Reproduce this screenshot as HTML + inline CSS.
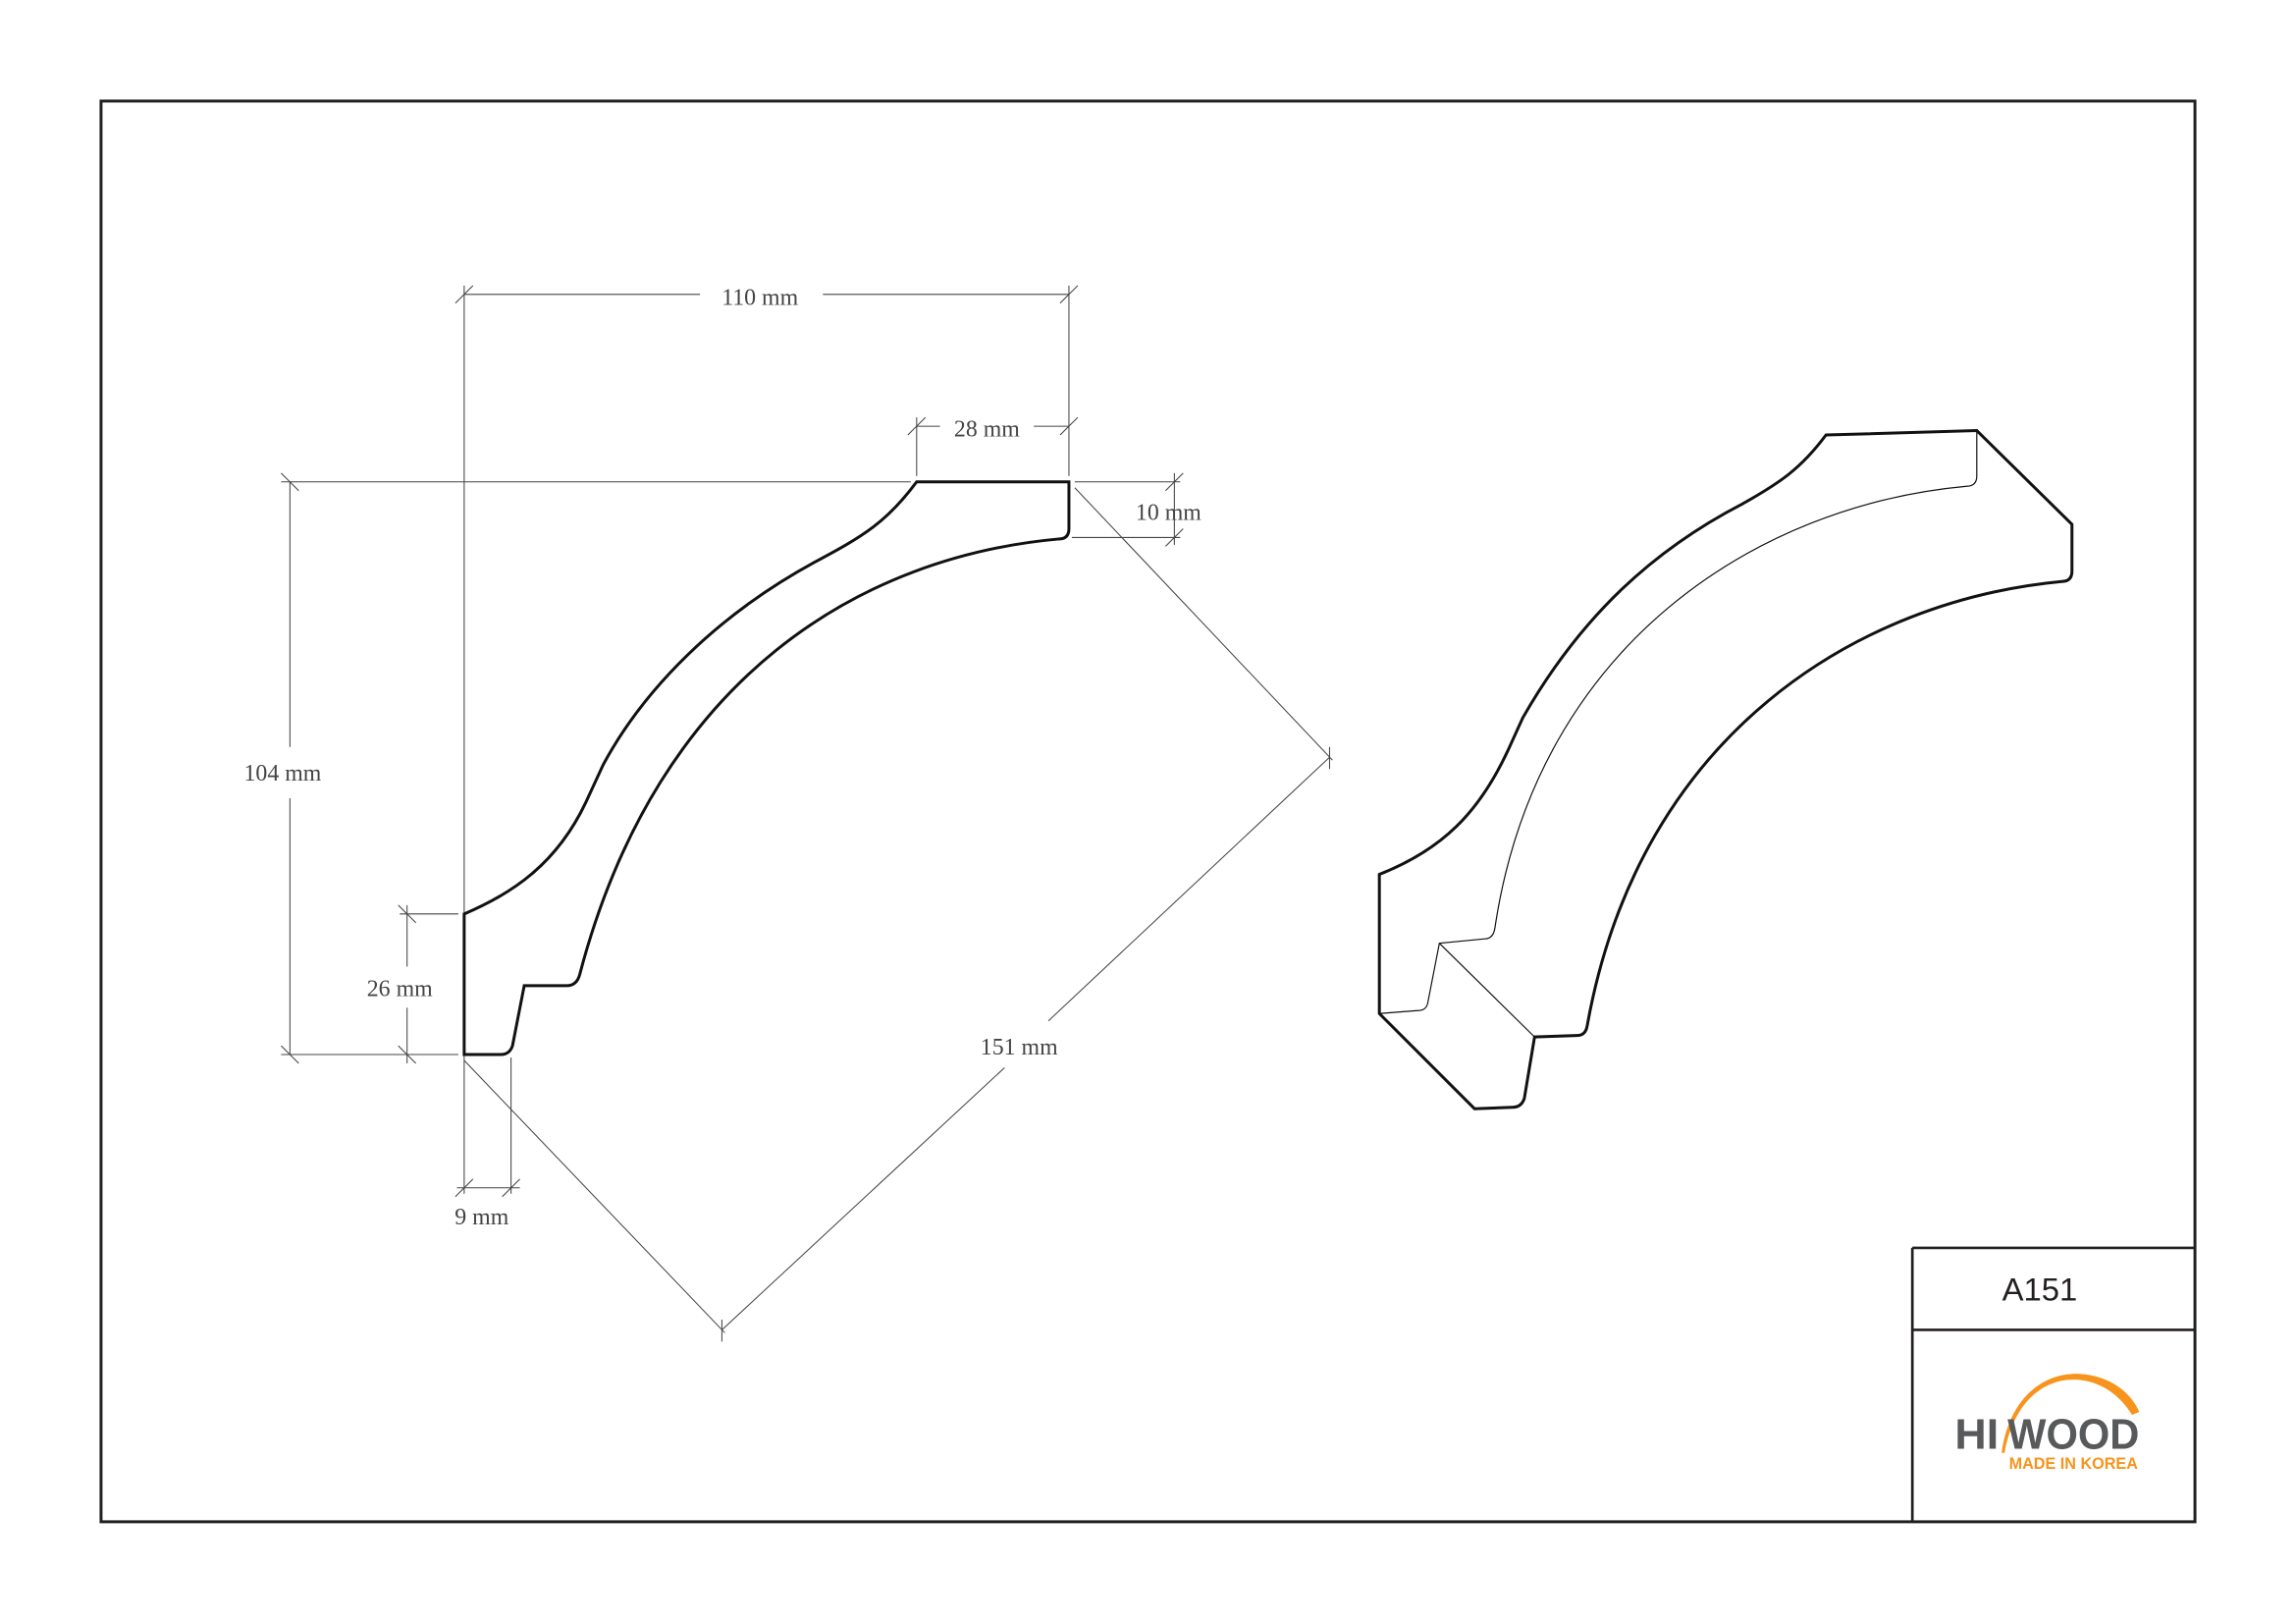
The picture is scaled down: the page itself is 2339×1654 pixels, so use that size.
<!DOCTYPE html>
<html><head><meta charset="utf-8"><style>html,body{margin:0;padding:0;background:#fff}svg{display:block}</style></head>
<body>
<svg width="2339" height="1654" viewBox="0 0 1568 1108.8" xmlns="http://www.w3.org/2000/svg">
<rect x="0" y="0" width="1568" height="1108.8" fill="#fff"/>
<rect x="69" y="69" width="1430" height="970" fill="none" stroke="#231f20" stroke-width="2"/>
<line x1="1306" y1="852" x2="1499" y2="852" stroke="#231f20" stroke-width="1.8"/>
<line x1="1306" y1="852" x2="1306" y2="1039" stroke="#231f20" stroke-width="1.8"/>
<line x1="1306" y1="908" x2="1499" y2="908" stroke="#231f20" stroke-width="1.8"/>
<text x="1393" y="888" font-family="Liberation Sans, sans-serif" font-size="22" text-anchor="middle" fill="#231f20">A151</text>
<path d="M1367,992 C1372,955 1395,937 1420,938 C1440,939 1455,950 1461,964 L1456,966 C1448,953 1435,943 1418,942 C1395,941 1375,958 1369,992 Z" fill="#f7941d"/>
<text x="1335" y="989" font-family="Liberation Sans, sans-serif" font-weight="bold" font-size="29" fill="#58595b" textLength="30" lengthAdjust="spacingAndGlyphs">HI</text>
<text x="1371" y="989" font-family="Liberation Sans, sans-serif" font-weight="bold" font-size="29" fill="#58595b" textLength="90" lengthAdjust="spacingAndGlyphs">WOOD</text>
<text x="1372" y="1003" font-family="Liberation Sans, sans-serif" font-weight="bold" font-size="11" fill="#f7941d" textLength="88" lengthAdjust="spacingAndGlyphs">MADE IN KOREA</text>

<g stroke="#444" stroke-width="0.7" fill="none">
<line x1="317" y1="201" x2="478" y2="201"/><line x1="562" y1="201" x2="730" y2="201"/>
<line x1="317" y1="195" x2="317" y2="815"/><line x1="730" y1="195" x2="730" y2="325"/>
<line x1="311" y1="207" x2="323" y2="195"/><line x1="724" y1="207" x2="736" y2="195"/>
<line x1="626" y1="291" x2="642" y2="291"/><line x1="706" y1="291" x2="730" y2="291"/>
<line x1="626" y1="285" x2="626" y2="325"/>
<line x1="620" y1="297" x2="632" y2="285"/><line x1="724" y1="297" x2="736" y2="285"/>
<line x1="734" y1="329" x2="806" y2="329"/><line x1="732" y1="367" x2="806" y2="367"/>
<line x1="802" y1="323" x2="802" y2="372"/>
<line x1="796" y1="335" x2="808" y2="323"/><line x1="796" y1="373" x2="808" y2="361"/>
<line x1="192" y1="329" x2="622" y2="329"/><line x1="192" y1="720" x2="313" y2="720"/>
<line x1="198" y1="329" x2="198" y2="510"/><line x1="198" y1="545" x2="198" y2="720"/>
<line x1="192" y1="323" x2="204" y2="335"/><line x1="192" y1="714" x2="204" y2="726"/>
<line x1="273" y1="624" x2="313" y2="624"/>
<line x1="278" y1="618" x2="278" y2="660"/><line x1="278" y1="688" x2="278" y2="726"/>
<line x1="272" y1="618" x2="284" y2="630"/><line x1="272" y1="714" x2="284" y2="726"/>
<line x1="349" y1="722" x2="349" y2="815"/>
<line x1="312" y1="811" x2="355" y2="811"/>
<line x1="311" y1="817" x2="323" y2="805"/><line x1="343" y1="817" x2="355" y2="805"/>
<line x1="734" y1="333" x2="910" y2="519"/>
<line x1="317" y1="724" x2="495" y2="910"/>
<line x1="908" y1="517" x2="716" y2="697"/><line x1="686" y1="729" x2="493" y2="908"/>
<line x1="908" y1="510" x2="908" y2="525"/><line x1="493" y1="901" x2="493" y2="916"/>
</g>
<g font-family="Liberation Serif, serif" font-size="16" fill="#444" text-anchor="middle">
<text x="519" y="208">110 mm</text>
<text x="674" y="298">28 mm</text>
<text x="798" y="355">10 mm</text>
<text x="193" y="533">104 mm</text>
<text x="273" y="680">26 mm</text>
<text x="329" y="836">9 mm</text>
<text x="696" y="720">151 mm</text>
</g>

<path d="M626,329 L730,329 L730,361 Q730,368 723,368 C590,380 450,460 396,665 Q394,673 387,673 L358,673 L350,714 Q348,720 342,720 L317,720 L317,624 C350,610 380,590 400,548 L412,522 C440,470 490,420 556,384 C590,366 606,356 626,329 Z" fill="none" stroke="#111" stroke-width="2"/>

<g fill="none" stroke="#111">
<path d="M1247,297 L1350,294 L1415,358 L1415,390 Q1415,397 1408,397 C1270,410 1120,500 1084,700 Q1083,707 1077,707 L1048,708 L1041,750 Q1039,756 1033,756 L1007,757 L942,692 L942,597 C985,580 1010,555 1030,512 L1040,490 C1080,420 1130,375 1190,344 C1215,330 1230,320 1247,297 Z" stroke-width="2"/>
<path d="M1350,294 L1350,325 Q1350,332 1343,332 C1200,345 1050,440 1021,633 Q1020,641 1014,641 L983,644 L975,685 Q974,690 968,690 L942,692" stroke-width="0.8"/>
<line x1="983" y1="644" x2="1048" y2="708" stroke-width="0.8"/>
</g>
</svg>
</body></html>
